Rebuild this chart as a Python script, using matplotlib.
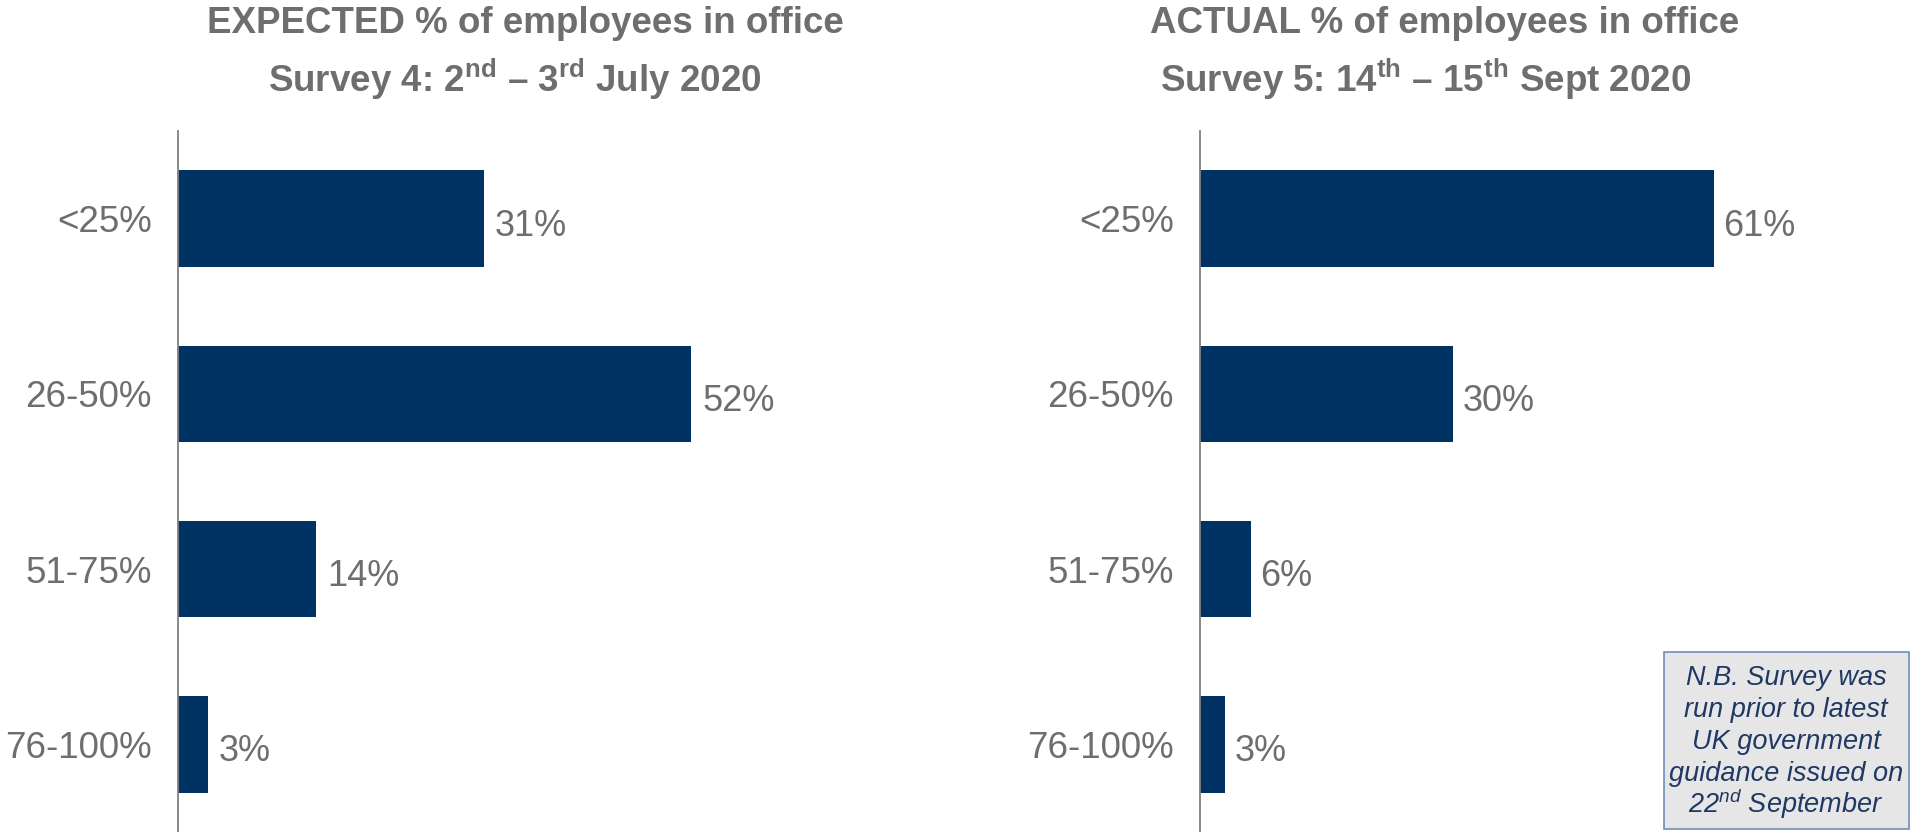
import matplotlib
matplotlib.use("Agg")
import matplotlib.pyplot as plt
from matplotlib.patches import Rectangle

plt.rcParams['font.family'] = ['Liberation Sans', 'DejaVu Sans']
plt.rcParams['mathtext.fontset'] = 'custom'
plt.rcParams['mathtext.rm'] = 'Liberation Sans'
plt.rcParams['mathtext.bf'] = 'Liberation Sans:bold'
plt.rcParams['mathtext.it'] = 'Liberation Sans:italic'

# Survey data
bands = ["<25%", "26-50%", "51-75%", "76-100%"]
expected_pct = [31, 52, 14, 3]
actual_pct = [61, 30, 6, 3]

title_left = ["EXPECTED % of employees in office",
              "Survey 4: 2$^{\\mathbf{nd}}$ \u2013 3$^{\\mathbf{rd}}$ July 2020"]
title_right = ["ACTUAL % of employees in office",
               "Survey 5: 14$^{\\mathbf{th}}$ \u2013 15$^{\\mathbf{th}}$ Sept 2020"]
note_lines = ["N.B. Survey was", "run prior to latest", "UK government",
              "guidance issued on", "22$^{nd}$ September"]

BAR = "#003264"
GREY = "#6e6e6e"
W, H = 1910, 832

fig = plt.figure(figsize=(W / 100, H / 100), dpi=100)


def panel(x0, width, values, xmax):
    ax = fig.add_axes([x0 / W, 0, width / W, (H - 131) / H])
    y = list(range(len(bands)))
    ax.barh(y, values, height=0.55, color=BAR)
    for yi, v in zip(y, values):
        ax.text(v + xmax * 0.016, yi + 0.02, f"{v}%", va="center_baseline",
                ha="left", fontsize=26, color=GREY)
    ax.set_xlim(0, xmax)
    ax.set_ylim(3.5, -0.5)
    ax.set_yticks(y)
    ax.set_yticklabels(bands)
    ax.tick_params(axis="y", length=0, pad=19, labelsize=26.5, labelcolor=GREY)
    ax.set_xticks([])
    for s in ["top", "right", "bottom"]:
        ax.spines[s].set_visible(False)
    ax.spines["left"].set_color("#808080")
    ax.spines["left"].set_linewidth(1.3)
    return ax


panel(178, 691, expected_pct, 70)
panel(1200, 590, actual_pct, 70)

# two-line headings above each panel
for x1, x2, lines in [(207, 268, title_left), (1150, 1160, title_right)]:
    fig.text(x1 / W, 1 - 33 / H, lines[0], ha="left", va="baseline",
             fontsize=26.5, fontweight="bold", color=GREY)
    fig.text(x2 / W, 1 - 92 / H, lines[1], ha="left", va="baseline",
             fontsize=26.5, fontweight="bold", color=GREY)

# note box, bottom right; lines placed one by one so the superscript
# line keeps the same spacing as the others
fig.patches.append(Rectangle((1664 / W, 1 - 829 / H), 245 / W, 177 / H,
                             transform=fig.transFigure, facecolor="#e7e6e6",
                             edgecolor="#6f8fb8", linewidth=1.2))
for i, line in enumerate(note_lines):
    fig.text(1786 / W, 1 - (685 + 32 * i) / H, line, ha="center",
             va="baseline", fontsize=19.5, style="italic", color="#1f3864")

fig.savefig("out.png", dpi=100)
